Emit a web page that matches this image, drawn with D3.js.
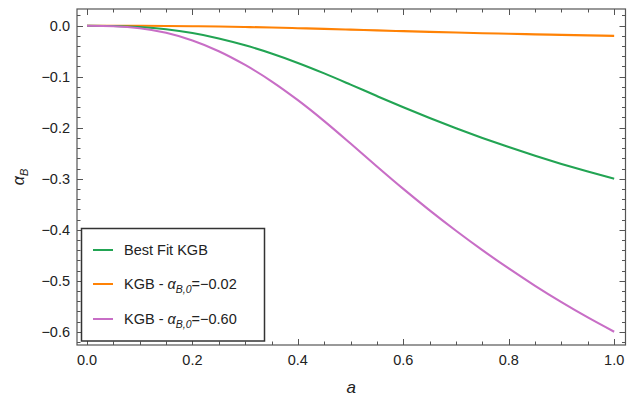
<!DOCTYPE html>
<html>
<head>
<meta charset="utf-8">
<script src="https://cdn.jsdelivr.net/npm/d3@7"></script>
<style>
  html, body { margin: 0; padding: 0; background: #fff; }
  svg { display: block; }
  text { font-family: "Liberation Sans", Arial, Helvetica, sans-serif; fill: #222; }
</style>
</head>
<body>
<svg id="chart" width="639" height="403"></svg>
<script>
// Scale factor a
const aValues = [0, 0.05, 0.1, 0.15, 0.2, 0.25, 0.3, 0.35, 0.4, 0.45, 0.5,
                 0.55, 0.6, 0.65, 0.7, 0.75, 0.8, 0.85, 0.9, 0.95, 1.0];

// alpha_B(a) for each model
const bestFit = [0, -0.0005, -0.0025, -0.007, -0.0145, -0.025, -0.0385, -0.0545, -0.073, -0.0935, -0.1155,
                 -0.138, -0.160, -0.181, -0.201, -0.220, -0.238, -0.255, -0.271, -0.286, -0.300];
const kgb002  = [0, -0.00003, -0.00017, -0.0005, -0.001, -0.0017, -0.0026, -0.0036, -0.0049, -0.0062, -0.0077,
                 -0.0092, -0.0107, -0.0121, -0.0134, -0.0147, -0.0159, -0.0170, -0.0181, -0.0191, -0.0200];
const kgb060  = [0, -0.001, -0.005, -0.014, -0.029, -0.050, -0.077, -0.109, -0.146, -0.187, -0.231,
                 -0.276, -0.320, -0.362, -0.402, -0.440, -0.476, -0.510, -0.542, -0.572, -0.600];

const seriesNames  = ["Best Fit KGB", "KGB - ", "KGB - "];
const legendValues = [null, "=\u22120.02", "=\u22120.60"];
const seriesColors = ["#22a453", "#ff8205", "#c86ec6"];

const xTicks = [0, 0.2, 0.4, 0.6, 0.8, 1.0];
const yTicks = [0, -0.1, -0.2, -0.3, -0.4, -0.5, -0.6];

const svg = d3.select("#chart");

const frame = { left: 77, right: 625.5, top: 9, bottom: 345 };

const x = d3.scaleLinear().domain([-0.019, 1.0215]).range([frame.left, frame.right]);
const y = d3.scaleLinear().domain([0.0327, -0.626]).range([frame.top, frame.bottom]);

const fmt = v => (v < 0 ? "\u2212" : "") + Math.abs(v).toFixed(1);

// Curves
const allSeries = [bestFit, kgb002, kgb060];
const line = d3.line()
  .x(d => x(d[0]))
  .y(d => y(d[1]))
  .curve(d3.curveMonotoneX);

const plot = svg.append("g");
// orange first, then green, then magenta on top at the origin
[1, 0, 2].forEach(i => {
  plot.append("path")
    .datum(aValues.map((a, k) => [a, allSeries[i][k]]))
    .attr("fill", "none")
    .attr("stroke", seriesColors[i])
    .attr("stroke-width", 2.1)
    .attr("stroke-linejoin", "round")
    .attr("d", line);
});

// Frame with inward ticks on all sides
const frameColor = "#555";
const axes = svg.append("g");

const xMinor = d3.range(0, 1.0001, 0.05);
const yMinor = d3.range(0.02, -0.6201, -0.02).map(v => +v.toFixed(2));
const isMajorX = v => xTicks.some(t => Math.abs(t - v) < 1e-6);
const isMajorY = v => yTicks.some(t => Math.abs(t - v) < 1e-6);

xMinor.forEach(v => {
  const len = isMajorX(v) ? 6 : 3.5;
  const px = Math.round(x(v)) + 0.5;
  axes.append("line").attr("x1", px).attr("x2", px)
    .attr("y1", frame.bottom).attr("y2", frame.bottom - len)
    .attr("stroke", frameColor).attr("stroke-width", 1);
  axes.append("line").attr("x1", px).attr("x2", px)
    .attr("y1", frame.top).attr("y2", frame.top + len)
    .attr("stroke", frameColor).attr("stroke-width", 1);
});
yMinor.forEach(v => {
  const len = isMajorY(v) ? 6 : 3.5;
  const py = Math.round(y(v)) + 0.5;
  axes.append("line").attr("y1", py).attr("y2", py)
    .attr("x1", frame.left).attr("x2", frame.left + len)
    .attr("stroke", frameColor).attr("stroke-width", 1);
  axes.append("line").attr("y1", py).attr("y2", py)
    .attr("x1", frame.right).attr("x2", frame.right - len)
    .attr("stroke", frameColor).attr("stroke-width", 1);
});

axes.append("rect")
  .attr("x", frame.left).attr("y", frame.top)
  .attr("width", frame.right - frame.left)
  .attr("height", frame.bottom - frame.top)
  .attr("fill", "none").attr("stroke", frameColor).attr("stroke-width", 1.2);

// Tick labels
xTicks.forEach(v => {
  axes.append("text")
    .attr("x", x(v)).attr("y", frame.bottom + 20)
    .attr("text-anchor", "middle")
    .attr("font-size", 14.5)
    .text(fmt(v));
});
yTicks.forEach(v => {
  axes.append("text")
    .attr("x", frame.left - 7).attr("y", y(v) + 5)
    .attr("text-anchor", "end")
    .attr("font-size", 14.5)
    .text(fmt(v));
});

// Axis titles
svg.append("text")
  .attr("x", (frame.left + frame.right) / 2).attr("y", 393)
  .attr("text-anchor", "middle")
  .attr("font-family", "'Liberation Serif', 'DejaVu Serif', serif")
  .attr("font-style", "italic")
  .attr("font-size", 17)
  .text("a");

const yt = svg.append("text")
  .attr("transform", `translate(24,${(frame.top + frame.bottom) / 2}) rotate(-90)`)
  .attr("text-anchor", "middle")
  .attr("font-size", 16);
yt.append("tspan").attr("font-style", "italic").text("\u03B1");
yt.append("tspan").attr("font-style", "italic").attr("font-size", 11).attr("dy", 4).text("B");

// Legend
const legend = svg.append("g");
legend.append("rect")
  .attr("x", 81.5).attr("y", 228.5)
  .attr("width", 183).attr("height", 112.5)
  .attr("fill", "#fff").attr("stroke", "#333").attr("stroke-width", 1.5);

const rowsY = [250, 284, 319];
seriesNames.forEach((name, i) => {
  legend.append("line")
    .attr("x1", 93).attr("x2", 113)
    .attr("y1", rowsY[i]).attr("y2", rowsY[i])
    .attr("stroke", seriesColors[i]).attr("stroke-width", 2);
  const t = legend.append("text")
    .attr("x", 124).attr("y", rowsY[i] + 5)
    .attr("font-size", 14.5);
  t.append("tspan").text(name);
  if (legendValues[i]) {
    t.append("tspan").attr("font-style", "italic").text("\u03B1");
    t.append("tspan").attr("font-style", "italic").attr("font-size", 10.5).attr("dy", 4).text("B,0");
    t.append("tspan").attr("dy", -4).text(legendValues[i]);
  }
});
</script>
</body>
</html>
